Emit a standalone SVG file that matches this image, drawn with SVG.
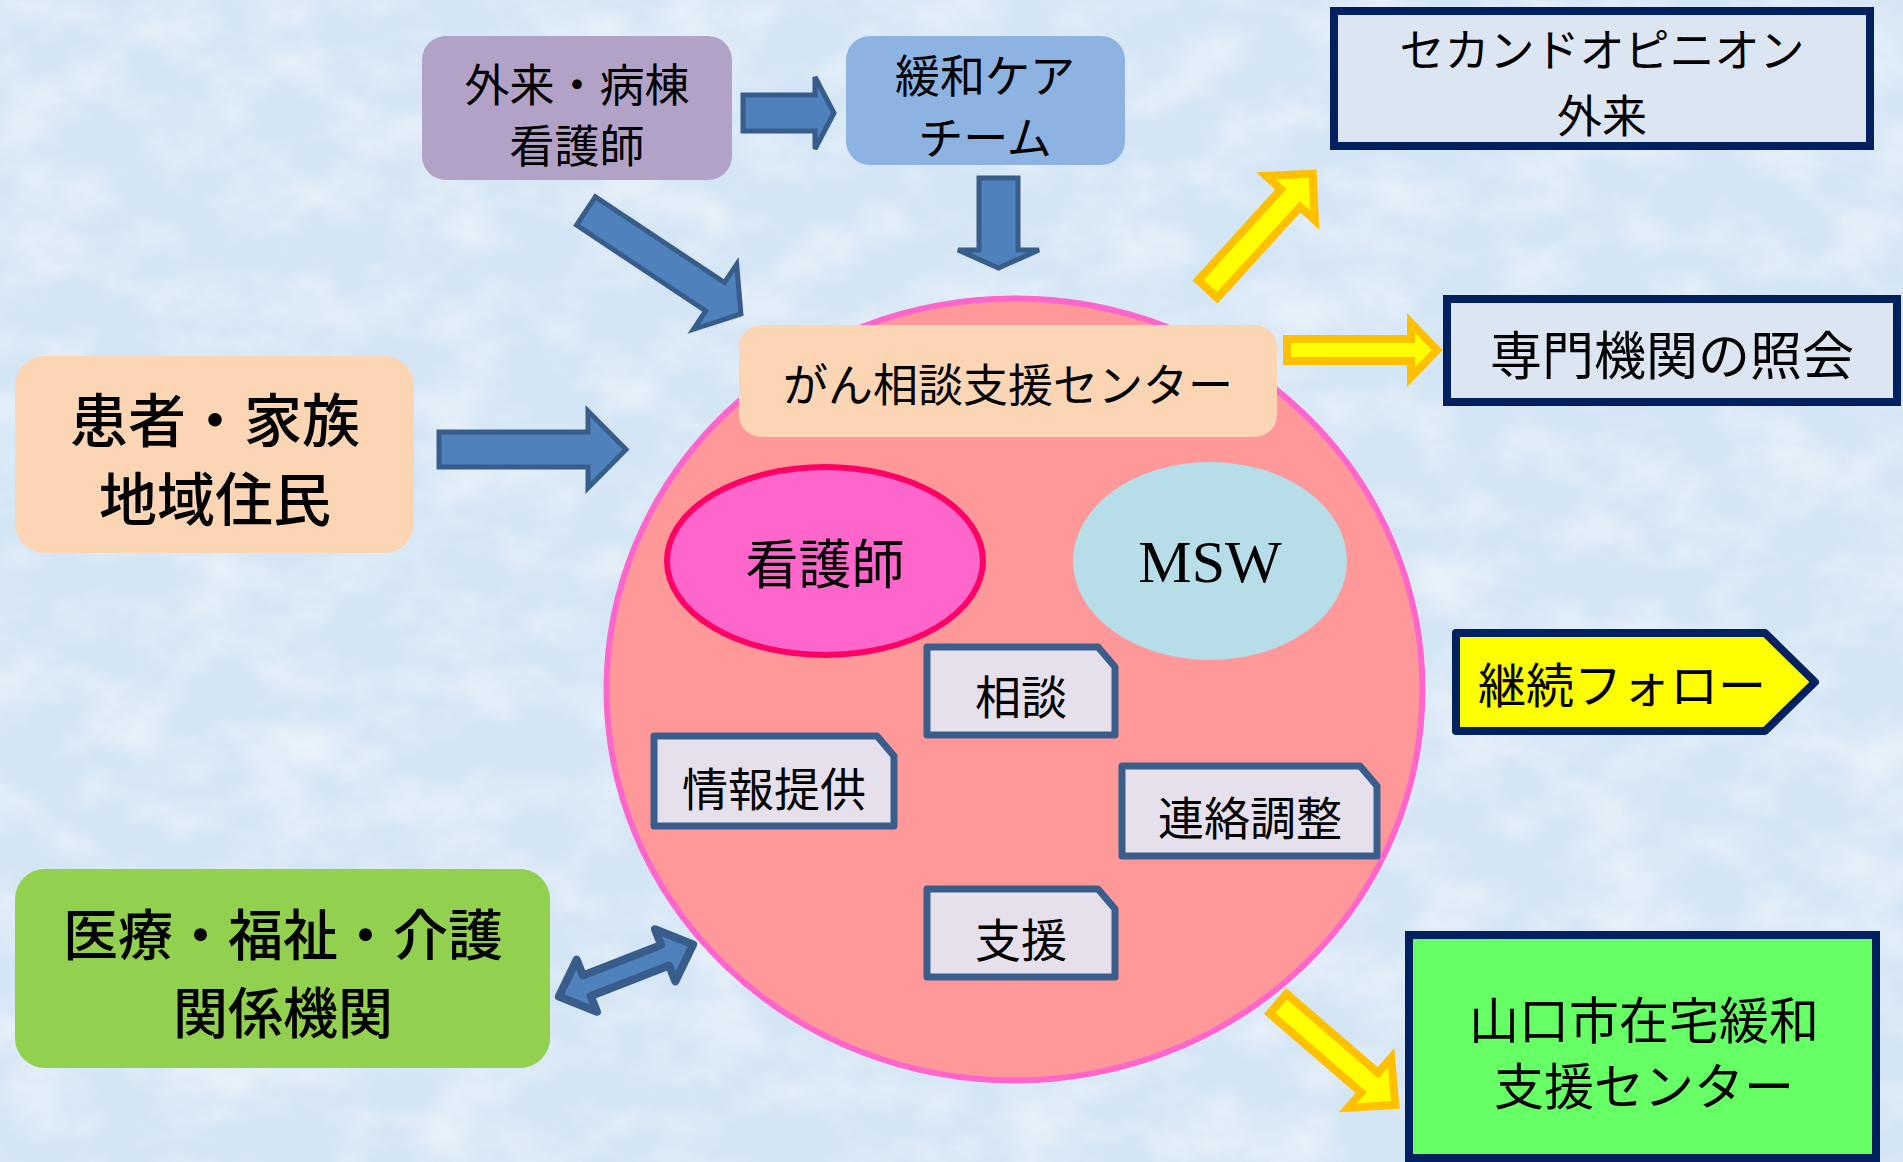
<svg xmlns="http://www.w3.org/2000/svg" width="1903" height="1162" viewBox="0 0 1903 1162">
<defs>
<filter id="tex" x="0" y="0" width="100%" height="100%">
<feTurbulence type="fractalNoise" baseFrequency="0.012 0.018" numOctaves="4" seed="7"/>
<feColorMatrix type="matrix" values="0 0 0 0 1  0 0 0 0 1  0 0 0 0 1  1.4 0 0 0 -0.55"/>
</filter>
<style>
.jp{font-family:"Noto Sans CJK JP","Noto Sans CJK SC",sans-serif;fill:#000;text-anchor:middle;dominant-baseline:central}
.blue{fill:#4f81bd;stroke:#385d8a;stroke-width:5;stroke-linejoin:miter}
.yel{fill:#ffff00;stroke:#ffc000;stroke-width:8;stroke-linejoin:miter}
.tag{fill:#e6e0ec;stroke:#3a5e8c;stroke-width:7;stroke-linejoin:round}
.navy{stroke:#002060;stroke-width:8}
</style>
</defs>
<rect width="1903" height="1162" fill="#d4e5f5"/>
<rect width="1903" height="1162" fill="#fff" filter="url(#tex)" opacity="0.7"/>

<g id="center-circle">
<ellipse cx="1014.5" cy="689.5" rx="408" ry="391" fill="#ff9999" stroke="#ff66cc" stroke-width="6"/>
</g>

<g id="connectors">
<path class="blue" d="M743,95 L815,95 L815,77 L834,113 L815,149 L815,131 L743,131 Z"/>
<path class="blue" d="M979,178 L1018,178 L1018,250 L1039,250 L998.5,268 L958,250 L979,250 Z"/>
<path class="blue" transform="translate(586,211) rotate(33.6)" d="M0,-17 L155,-17 L155,-39 L186,0 L155,39 L155,17 L0,17 Z"/>
<path class="blue" d="M439,432 L588,432 L588,411 L626,449.5 L588,488 L588,467 L439,467 Z"/>
<path class="blue" style="stroke-width:8;stroke-linejoin:round" transform="translate(626,970.5) rotate(-21.2)" d="M-72,0 L-42,-28 L-42,-11 L42,-11 L42,-28 L72,0 L42,28 L42,11 L-42,11 L-42,28 Z"/>
<path class="yel" transform="translate(1205,292) rotate(-47.7)" d="M4,-13 L127,-13 L127,-33 L160,0 L127,33 L127,13 L4,13 Z"/>
<path class="yel" d="M1287,339 L1411,339 L1411,323 L1437,350 L1411,377 L1411,361 L1287,361 Z"/>
<path class="yel" transform="translate(1275,1001) rotate(40.8)" d="M4,-13 L125,-13 L125,-33 L159,0 L125,33 L125,13 L4,13 Z"/>
</g>

<g id="node-gairai-kango">
<rect x="422" y="36" width="310" height="144" rx="24" fill="#b3a2c7"/>
<text class="jp" x="577" y="82" font-size="45">外来・病棟</text>
<text class="jp" x="577" y="143" font-size="45">看護師</text>
</g>

<g id="node-kanwa-team">
<rect x="846" y="36" width="279" height="129" rx="24" fill="#8db3e2"/>
<text class="jp" x="985" y="73" font-size="45">緩和ケア</text>
<text class="jp" x="985" y="135" font-size="45">チーム</text>
</g>

<g id="node-gan-center">
<rect x="739" y="325" width="538" height="112" rx="22" fill="#fcd5b5"/>
<text class="jp" x="1008" y="382" font-size="45">がん相談支援センター</text>
</g>

<g id="node-kangoshi">
<ellipse cx="825" cy="561" rx="158" ry="94" fill="#ff66cc" stroke="#ff0066" stroke-width="6"/>
<text class="jp" x="825" y="561" font-size="53">看護師</text>
</g>

<g id="node-msw">
<ellipse cx="1210" cy="561" rx="137" ry="99" fill="#b7dde8"/>
<text x="1210" y="582" font-family="Liberation Serif, serif" font-size="60" text-anchor="middle" fill="#000">MSW</text>
</g>

<g id="node-soudan">
<path class="tag" d="M927,647 L1098,647 L1115,667 L1115,735 L927,735 Z"/>
<text class="jp" x="1021" y="694" font-size="46">相談</text>
</g>

<g id="node-jouhou">
<path class="tag" d="M654,736 L877,736 L894,756 L894,826 L654,826 Z"/>
<text class="jp" x="774" y="786" font-size="46">情報提供</text>
</g>

<g id="node-renraku">
<path class="tag" d="M1122,766 L1360,766 L1377,786 L1377,856 L1122,856 Z"/>
<text class="jp" x="1250" y="815" font-size="46">連絡調整</text>
</g>

<g id="node-shien">
<path class="tag" d="M927,889 L1098,889 L1115,909 L1115,977 L927,977 Z"/>
<text class="jp" x="1021" y="937" font-size="46">支援</text>
</g>

<g id="node-kanja">
<rect x="15" y="356" width="399" height="197" rx="30" fill="#fcd5b5"/>
<text class="jp" x="215" y="417" font-size="58" font-weight="500">患者・家族</text>
<text class="jp" x="215" y="496" font-size="58" font-weight="500">地域住民</text>
</g>

<g id="node-iryou">
<rect x="15" y="869" width="535" height="199" rx="30" fill="#92d050"/>
<text class="jp" x="283" y="931" font-size="55" font-weight="500">医療・福祉・介護</text>
<text class="jp" x="283" y="1009" font-size="55" font-weight="500">関係機関</text>
</g>

<g id="node-second-opinion">
<rect x="1334" y="11" width="536" height="135" fill="#dce6f2" class="navy"/>
<text class="jp" x="1602" y="47" font-size="45">セカンドオピニオン</text>
<text class="jp" x="1602" y="113" font-size="45">外来</text>
</g>

<g id="node-senmon">
<rect x="1447" y="299" width="450" height="103" fill="#dce6f2" class="navy"/>
<text class="jp" x="1672" y="352" font-size="52">専門機関の照会</text>
</g>

<g id="node-keizoku">
<path d="M1456,633 L1765,633 L1815,682 L1765,731 L1456,731 Z" fill="#ffff00" class="navy" stroke-linejoin="round"/>
<text class="jp" x="1622" y="682" font-size="48">継続フォロー</text>
</g>

<g id="node-yamaguchi">
<rect x="1409" y="935" width="467" height="223" fill="#66ff66" class="navy"/>
<text class="jp" x="1644" y="1017" font-size="50">山口市在宅緩和</text>
<text class="jp" x="1644" y="1083" font-size="50">支援センター</text>
</g>
</svg>
